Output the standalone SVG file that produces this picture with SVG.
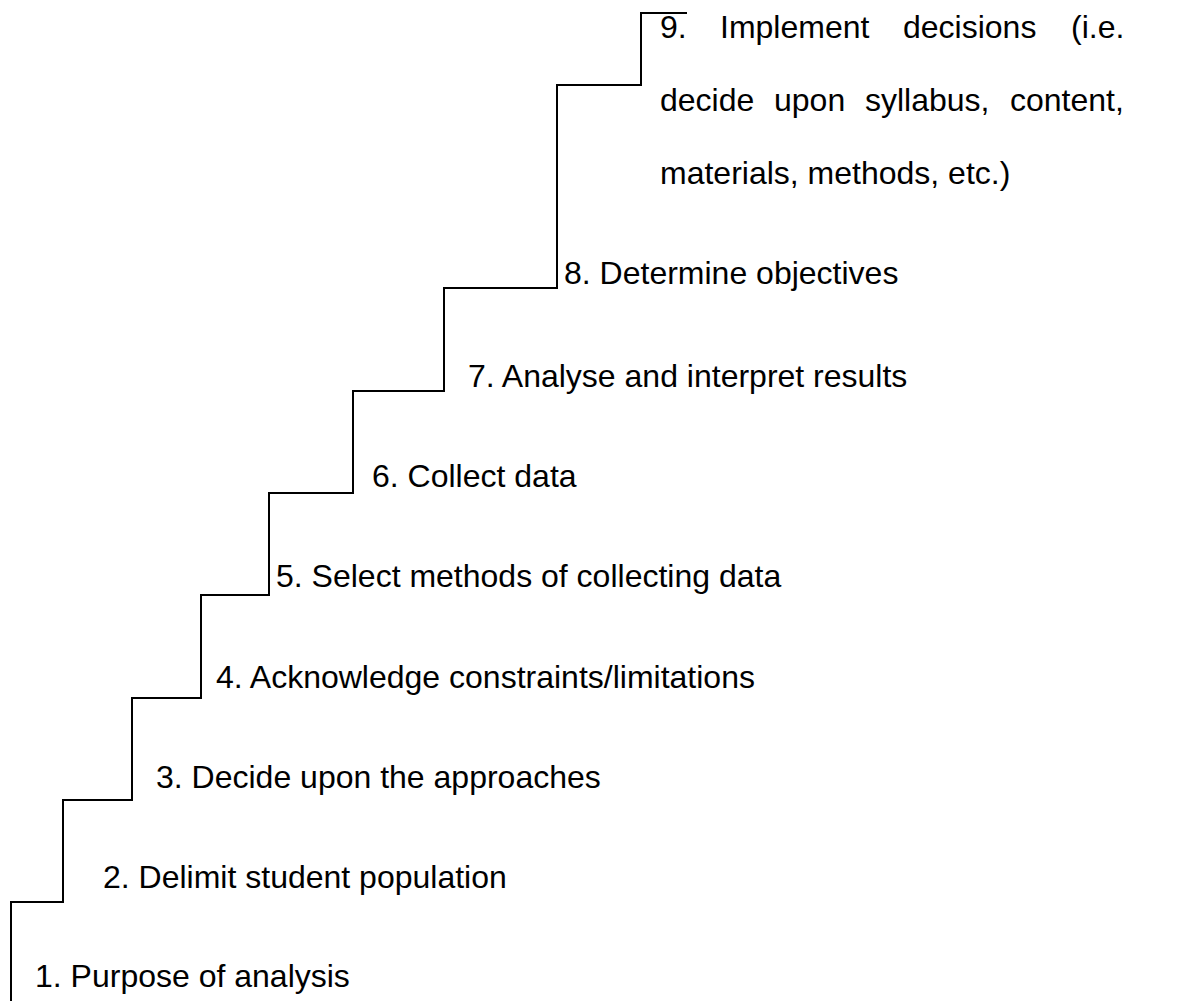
<svg xmlns="http://www.w3.org/2000/svg" width="1185" height="1001" viewBox="0 0 1185 1001">
  <style>
    .stair { fill: none; stroke: #000; stroke-width: 2; }
    .lbl { font-family: "Liberation Sans", Arial, sans-serif; font-size: 32px; fill: #000; }
  </style>
  <rect width="1185" height="1001" fill="#fff"/>
  <!-- staircase outline -->
  <g id="stairs">
    <path class="stair" d="M11,1001 V902 H63 V800 H132 V698 H201 V595 H269 V493 H353 V391 H444 V288 H557 V85 H641 V13 H687"/>
  </g>
  <!-- step labels -->
  <g id="step1"><text class="lbl" x="35" y="987">1. Purpose of analysis</text></g>
  <g id="step2"><text class="lbl" x="103" y="888">2. Delimit student population</text></g>
  <g id="step3"><text class="lbl" x="156" y="788">3. Decide upon the approaches</text></g>
  <g id="step4"><text class="lbl" x="216" y="688">4. Acknowledge constraints/limitations</text></g>
  <g id="step5"><text class="lbl" x="276" y="587">5. Select methods of collecting data</text></g>
  <g id="step6"><text class="lbl" x="372" y="487">6. Collect data</text></g>
  <g id="step7"><text class="lbl" x="468" y="387">7. Analyse and interpret results</text></g>
  <g id="step8"><text class="lbl" x="564" y="284">8. Determine objectives</text></g>
  <!-- justified three-line label on the top step -->
  <g id="step9">
    <text class="lbl" y="38"><tspan x="660">9.</tspan><tspan x="720">Implement</tspan><tspan x="903">decisions</tspan><tspan x="1071">(i.e.</tspan></text>
    <text class="lbl" y="111"><tspan x="660">decide</tspan><tspan x="774">upon</tspan><tspan x="865">syllabus,</tspan><tspan x="1010">content,</tspan></text>
    <text class="lbl" x="660" y="184">materials, methods, etc.)</text>
  </g>
</svg>
